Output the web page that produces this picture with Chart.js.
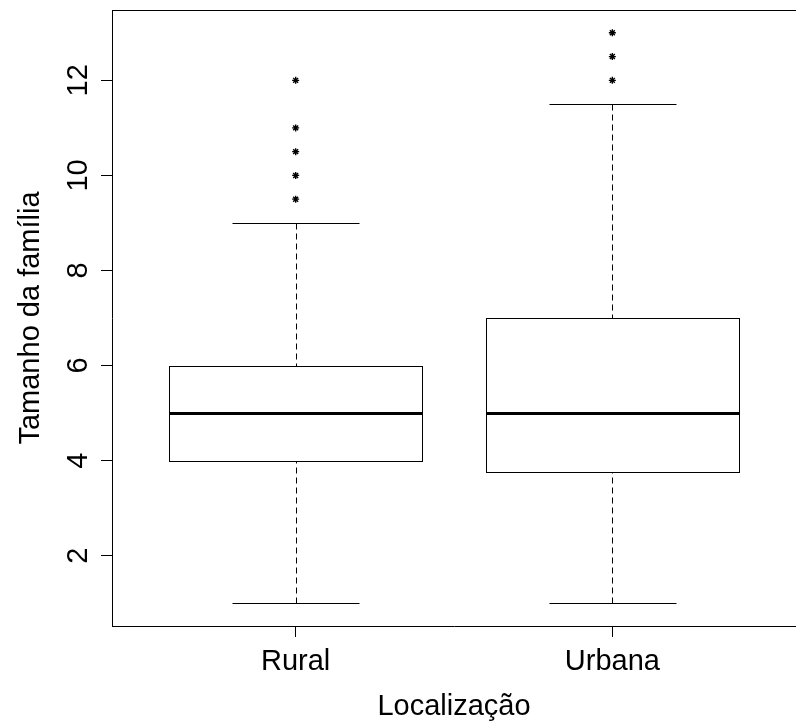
<!DOCTYPE html>
<html>
<head>
<meta charset="utf-8">
<script src="https://cdn.jsdelivr.net/npm/chart.js@4.4.0/dist/chart.umd.min.js"></script>
<style>
  html, body { margin: 0; padding: 0; background: #fff; }
  #wrap { width: 796px; height: 724px; }
</style>
</head>
<body>
<div id="wrap"><canvas id="boxChart" width="796" height="724"></canvas></div>
<script>
// boxplot data
const categories = ['Rural', 'Urbana'];
const lowerWhisker = [1, 1];
const firstQuartile = [4, 3.75];
const medians = [5, 5];
const thirdQuartile = [6, 7];
const upperWhisker = [9, 11.5];
const outliersRural = [9.5, 10, 10.5, 11, 12];
const outliersUrbana = [12, 12.5, 13];
const yTicks = [2, 4, 6, 8, 10, 12];

const outlierPoints = [
  ...outliersRural.map(v => ({ x: 1, y: v })),
  ...outliersUrbana.map(v => ({ x: 2, y: v }))
];

Chart.defaults.font.family = '"Liberation Sans", Arial, Helvetica, sans-serif';
Chart.defaults.color = '#000';

const crisp = v => Math.round(v) + 0.5;

// draws boxes, medians, dashed whiskers and caps through the chart scales
const boxPlugin = {
  id: 'boxes',
  beforeDatasetsDraw(chart) {
    const { ctx, scales: { x, y } } = chart;
    ctx.save();
    ctx.strokeStyle = '#000';
    categories.forEach((cat, i) => {
      const cx = crisp(x.getPixelForValue(i + 1));
      const left = crisp(x.getPixelForValue(i + 1 - 0.4));
      const right = crisp(x.getPixelForValue(i + 1 + 0.4));
      const capL = crisp(x.getPixelForValue(i + 1 - 0.2));
      const capR = crisp(x.getPixelForValue(i + 1 + 0.2));
      const yLo = crisp(y.getPixelForValue(lowerWhisker[i]));
      const yQ1 = crisp(y.getPixelForValue(firstQuartile[i]));
      const yMed = Math.round(y.getPixelForValue(medians[i]));
      const yQ3 = crisp(y.getPixelForValue(thirdQuartile[i]));
      const yHi = crisp(y.getPixelForValue(upperWhisker[i]));

      // whiskers
      ctx.lineWidth = 1;
      ctx.setLineDash([6, 4]);
      ctx.beginPath();
      ctx.moveTo(cx, yLo); ctx.lineTo(cx, yQ1);
      ctx.moveTo(cx, yHi); ctx.lineTo(cx, yQ3);
      ctx.stroke();
      ctx.setLineDash([]);

      // caps
      ctx.beginPath();
      ctx.moveTo(capL, yLo); ctx.lineTo(capR, yLo);
      ctx.moveTo(capL, yHi); ctx.lineTo(capR, yHi);
      ctx.stroke();

      // box
      ctx.strokeRect(left, yQ3, right - left, yQ1 - yQ3);

      // median
      ctx.lineWidth = 3;
      ctx.beginPath();
      ctx.moveTo(left, yMed + 0.5); ctx.lineTo(right, yMed + 0.5);
      ctx.stroke();
    });
    ctx.restore();
  },
  afterDraw(chart) {
    // top edge of the frame (no right edge visible in the reference)
    const { ctx, chartArea } = chart;
    ctx.save();
    ctx.strokeStyle = '#000';
    ctx.lineWidth = 1;
    ctx.beginPath();
    ctx.moveTo(chartArea.left, crisp(chartArea.top));
    ctx.lineTo(chartArea.right, crisp(chartArea.top));
    ctx.stroke();
    ctx.restore();
  }
};

new Chart(document.getElementById('boxChart'), {
  type: 'scatter',
  data: {
    datasets: [{
      label: 'Outliers',
      data: outlierPoints,
      pointStyle: 'star',
      radius: 3.5,
      borderColor: '#000',
      backgroundColor: '#000',
      borderWidth: 1.4
    }]
  },
  options: {
    responsive: false,
    animation: false,
    layout: { autoPadding: false, padding: { top: 10, left: 0, right: 0, bottom: 0 } },
    plugins: {
      legend: { display: false },
      tooltip: { enabled: false }
    },
    scales: {
      x: {
        type: 'linear',
        min: 0.42,
        max: 2.58,
        afterBuildTicks: s => { s.ticks = categories.map((c, i) => ({ value: i + 1 })); },
        afterFit: s => { s.height = 98; s.paddingLeft = 0; s.paddingRight = 0; },
        grid: { display: true, drawOnChartArea: false, drawTicks: true, tickLength: 11, color: '#000', lineWidth: 1 },
        border: { display: true, color: '#000', width: 1 },
        ticks: {
          autoSkip: false,
          maxRotation: 0,
          padding: 8,
          font: { size: 29 },
          callback: (value, index) => categories[index]
        },
        title: {
          display: true,
          text: 'Localização',
          font: { size: 29 },
          padding: { top: 0, bottom: 0 }
        }
      },
      y: {
        min: 0.52,
        max: 13.48,
        afterBuildTicks: s => { s.ticks = yTicks.map(v => ({ value: v })); },
        afterFit: s => { s.width = 112; s.paddingTop = 0; s.paddingBottom = 0; },
        grid: { display: true, drawOnChartArea: false, drawTicks: true, tickLength: 11, color: '#000', lineWidth: 1 },
        border: { display: true, color: '#000', width: 1 },
        ticks: {
          minRotation: 90,
          maxRotation: 90,
          crossAlign: 'center',
          padding: 6,
          font: { size: 29 }
        },
        title: {
          display: true,
          text: 'Tamanho da família',
          font: { size: 29 },
          padding: { top: 14, bottom: 0 }
        }
      }
    }
  },
  plugins: [boxPlugin]
});
</script>
</body>
</html>
